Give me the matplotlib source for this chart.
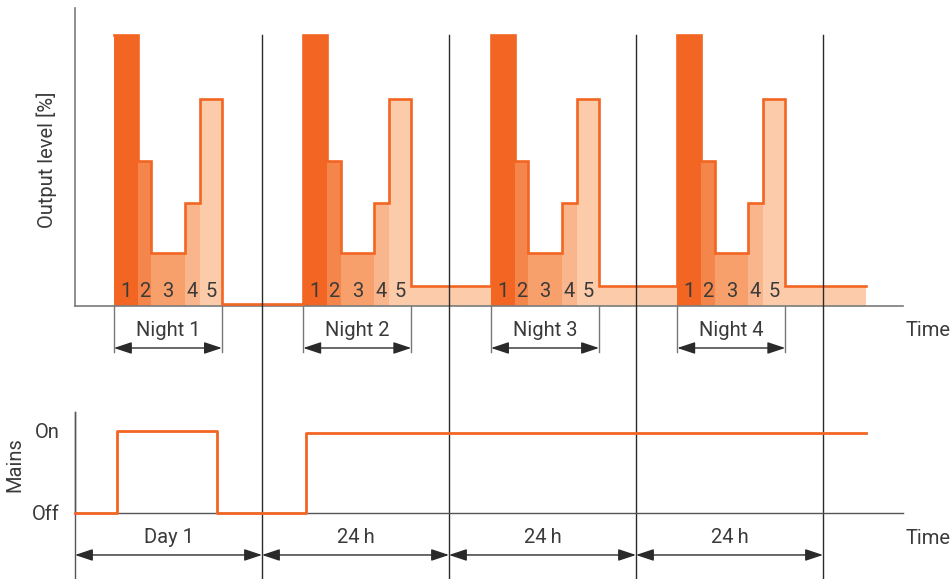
import matplotlib.pyplot as plt
from matplotlib.transforms import blended_transform_factory

# output level profile (hours on x, percent on y)
night_starts = [5.0, 29.3, 53.4, 77.3]
step_widths = [3.1, 1.7, 4.3, 1.9, 2.85]
step_levels = [100, 53.6, 19.6, 38, 76.3]
step_labels = ['1', '2', '3', '4', '5']
gap_levels = [0.8, 7.4, 7.4, 7.4]
end_time = 101.5
night_labels = ['Night 1', 'Night 2', 'Night 3', 'Night 4']

# mains signal
mains_times = [0, 5.35, 18.2, 29.65, 101.5]
mains_levels = [0, 1, 0, 0.97, 0.97]

day_edges = [0, 24, 48, 72, 96]
day_labels = ['Day 1', '24\u2009h', '24\u2009h', '24\u2009h']

step_colors = ['#f26522', '#f4854b', '#f7a06c', '#f9b68c', '#fccba9']
orange = '#f26522'
txt = '#3a3a3a'
dark = '#2a2a2a'

plt.rcParams['font.family'] = ['Roboto', 'DejaVu Sans']
plt.rcParams['font.size'] = 14.5

W, H = 952, 579
fig = plt.figure(figsize=(W / 100, H / 100), dpi=100)

def fy(y):
  return 1 - y / H

xmax = 828 * 24 / 187
ax1 = fig.add_axes([75 / W, fy(306), 828 / W, (306 - 8) / H])
ax2 = fig.add_axes([75 / W, fy(513), 828 / W, (513 - 412) / H])

for ax in (ax1, ax2):
  ax.set_xlim(0, xmax)
  ax.spines['top'].set_visible(False)
  ax.spines['right'].set_visible(False)
  ax.set_xticks([])
  ax.patch.set_visible(False)
ax1.set_ylim(0, 110)
ax1.set_yticks([])
ax2.set_ylim(0, 1.227)
ax2.set_yticks([0, 1])
ax2.set_yticklabels(['Off', 'On'], color=txt)
ax2.tick_params(axis='y', length=0, pad=11)
for sp in ('left', 'bottom'):
  ax1.spines[sp].set_color('#7a7a7a')
  ax1.spines[sp].set_linewidth(1.2)
  ax2.spines[sp].set_color('#555555')
  ax2.spines[sp].set_linewidth(1.0)

# bars and outline
out_x, out_y = [], []
for i, start in enumerate(night_starts):
  x = start
  for w, lev, col, lab in zip(step_widths, step_levels, step_colors, step_labels):
    ax1.bar(x, lev, width=w, align='edge', color=col, linewidth=0, zorder=2)
    ax1.text(x + w / 2, 3.3, lab, ha='center', va='baseline', color=txt, zorder=4)
    out_x.append(x)
    out_y.append(lev)
    x += w
  nxt = night_starts[i + 1] if i + 1 < len(night_starts) else end_time
  ax1.bar(x, gap_levels[i], width=nxt - x, align='edge', color=step_colors[-1],
          linewidth=0, zorder=2)
  out_x.append(x)
  out_y.append(gap_levels[i])
  # night dimension
  ax1.plot([start, start], [0, -17], color='#777777', lw=1, clip_on=False)
  ax1.plot([x, x], [0, -17], color='#777777', lw=1, clip_on=False)
  ax1.annotate('', xy=(x, -15.5), xytext=(start, -15.5), annotation_clip=False,
               arrowprops=dict(arrowstyle='<|-|>,head_length=0.54,head_width=0.18',
                               mutation_scale=20, color=dark, lw=1,
                               shrinkA=0, shrinkB=0))
  ax1.text((start + x) / 2, -9.1, night_labels[i], ha='center', va='center',
           color=txt, clip_on=False)
out_x.append(end_time)
out_y.append(out_y[-1])
ax1.plot(out_x, out_y, drawstyle='steps-post', color=orange, lw=1.9, zorder=3,
         solid_joinstyle='miter')

# mains
ax2.plot(mains_times, mains_levels, drawstyle='steps-post', color=orange, lw=2,
         zorder=3, clip_on=False)

# day dimensions
for a, b, lab in zip(day_edges[:-1], day_edges[1:], day_labels):
  ax2.annotate('', xy=(b, -0.51), xytext=(a, -0.51), annotation_clip=False,
               arrowprops=dict(arrowstyle='<|-|>,head_length=0.54,head_width=0.18',
                               mutation_scale=20, color=dark, lw=1,
                               shrinkA=0, shrinkB=0))
  ax2.text((a + b) / 2, -0.30, lab, ha='center', va='center', color=txt,
           clip_on=False)

# vertical day boundary lines
tr = blended_transform_factory(ax1.transData, fig.transFigure)
for d in day_edges[1:]:
  ax1.plot([d, d], [fy(35), 0], transform=tr, color=dark, lw=1, clip_on=False,
           zorder=5)
ax1.plot([0, 0], [fy(412), 0], transform=tr, color='#555555', lw=1, clip_on=False)

fig.text(47 / W, fy(160), 'Output level [%]', rotation=90, ha='center',
         va='center', color=txt)
fig.text(15 / W, fy(465), 'Mains', rotation=90, ha='center', va='center', color=txt)
fig.text(906 / W, fy(330), 'Time', ha='left', va='center', color=txt)
fig.text(906 / W, fy(538), 'Time', ha='left', va='center', color=txt)

fig.savefig('out.png', dpi=100)
